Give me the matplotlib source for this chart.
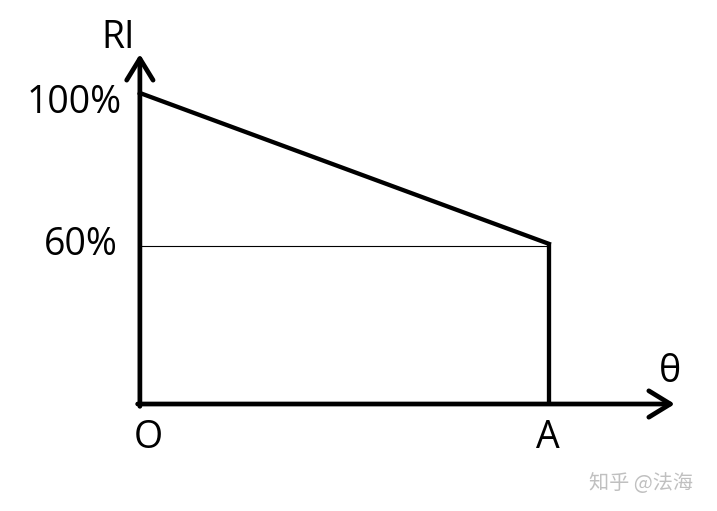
import matplotlib
matplotlib.use("Agg")
import matplotlib.pyplot as plt

# schematic data (drawing is not to scale: 60% sits about halfway up)
theta_pts = [0.0, 1.0]          # O, A
ri_heights = [100.0, 51.5]      # drawn heights of the 100% and 60% levels
ri_labels = ["100%", "60%"]
x_labels = ["O", "A"]

plt.rcParams['font.family'] = ['Open Sans', 'Noto Sans CJK SC', 'DejaVu Sans']

fig = plt.figure(figsize=(7.17, 5.11), dpi=100)
ax = fig.add_axes([0, 0, 1, 1])
ax.set_xlim(-0.342, 1.411)
ax.set_ylim(-34.4, 129.9)
ax.axis('off')

arrow = dict(arrowstyle='->,head_length=15.5,head_width=9.5', lw=3.4,
             color='black', shrinkA=0, shrinkB=0, mutation_scale=1)
# axes with open arrow heads
ax.annotate('', xy=(1.308, 0), xytext=(-0.0055, 0), arrowprops=arrow)
ax.annotate('', xy=(0, 112.5), xytext=(0, -0.75), arrowprops=arrow)

# RI curve
ax.plot(theta_pts, ri_heights, color='black', lw=3.1, solid_capstyle='projecting')
ax.plot([theta_pts[1], theta_pts[1]], [0, ri_heights[1]], color='black', lw=3.1,
        solid_capstyle='butt')
# thin guide at the 60% level
ax.plot([theta_pts[0], theta_pts[1]], [ri_heights[1] - 0.6] * 2, color='black', lw=0.8)

fs = 27
ax.text(-0.054, 117.7, "RI", fontsize=fs, ha='center', va='center')
ax.text(-0.044, ri_heights[0] - 3.2, ri_labels[0], fontsize=fs, ha='right', va='center')
ax.text(-0.054, ri_heights[1] - 0.5, ri_labels[1], fontsize=fs, ha='right', va='center')
ax.text(theta_pts[0] + 0.02, -11.0, x_labels[0], fontsize=fs, ha='center', va='center')
ax.text(theta_pts[1] - 0.002, -11.0, x_labels[1], fontsize=fs, ha='center', va='center')
ax.text(1.296, 10.3, "θ", fontsize=fs, ha='center', va='center')

# watermark
ax.text(1.225, -25.4, "知乎 @法海", fontsize=14.5, color='#c0c0c0', ha='center', va='center',
        family=['Noto Sans CJK SC', 'DejaVu Sans'])

plt.savefig('out.png', dpi=100)
plt.close()
